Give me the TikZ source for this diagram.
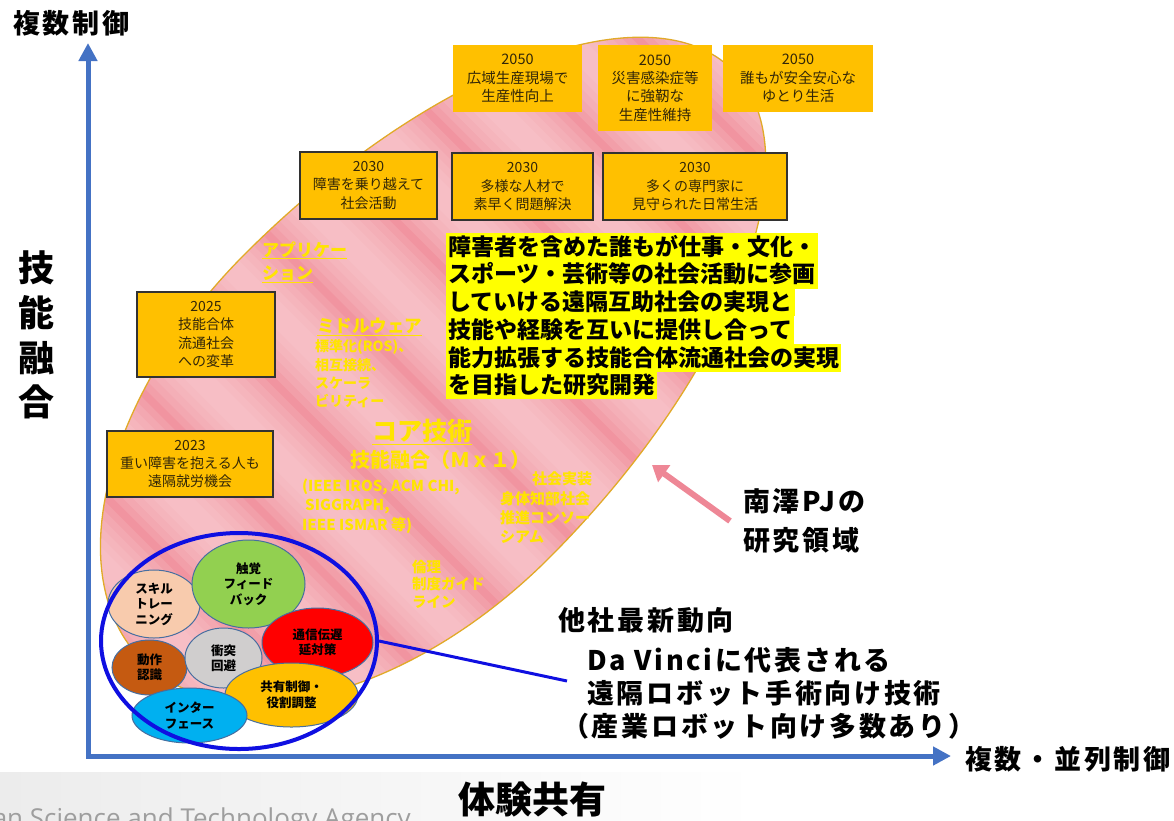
\documentclass[tikz,border=0pt]{standalone}
\usepackage{fontspec}
\setmainfont{Noto Sans CJK JP}
\newfontfamily\widejp[LetterSpace=10]{Noto Sans CJK JP}
\newfontfamily\latsans{Open Sans}
\usetikzlibrary{shapes.geometric,arrows.meta}
\definecolor{pinkbase}{RGB}{241,148,160}
\definecolor{pinklight}{RGB}{252,214,218}
\definecolor{ellipseedge}{RGB}{225,170,40}
\definecolor{boxfill}{RGB}{255,192,0}
\definecolor{boxedge}{RGB}{50,50,50}
\definecolor{boxtext}{RGB}{50,38,8}
\definecolor{hlyellow}{RGB}{255,255,0}
\definecolor{labyellow}{RGB}{255,228,0}
\definecolor{blobedge}{RGB}{70,110,160}
\definecolor{skillc}{RGB}{248,203,173}
\definecolor{hapticc}{RGB}{146,208,80}
\definecolor{netc}{RGB}{255,0,0}
\definecolor{motionc}{RGB}{197,90,17}
\definecolor{avoidc}{RGB}{208,206,206}
\definecolor{sharec}{RGB}{255,192,0}
\definecolor{ifacec}{RGB}{0,176,240}
\definecolor{circblue}{RGB}{15,15,225}
\definecolor{axisblue}{RGB}{68,114,196}
\definecolor{arrowpink}{RGB}{238,135,150}
\definecolor{footgray}{RGB}{236,236,236}
\begin{document}
\begin{tikzpicture}[x=1pt,y=-1pt,
  goalbox/.style={rectangle, fill=boxfill, draw=boxedge, line width=1.3pt, inner sep=0pt,
    align=center, text=boxtext, font=\fontsize{14}{18.3}\selectfont},
  goalnb/.style={goalbox, draw=none, font=\fontsize{14.5}{18.3}\selectfont},
  blob/.style={ellipse, draw=blobedge, line width=1pt, inner sep=0pt, align=center,
    font=\bfseries\fontsize{12.5}{15.5}\selectfont},
  ylab/.style={text=labyellow, anchor=west, align=left, inner sep=0pt},
  hl/.style={fill=hlyellow, anchor=west, inner xsep=2pt, inner ysep=1.6pt,
    text height=20.5pt, text depth=4pt, font=\bfseries\fontsize{23}{27.7}\selectfont},
  biglab/.style={anchor=west, inner sep=0pt, font=\widejp\bfseries\fontsize{27}{34}\selectfont},
  axis/.style={draw=axisblue, line width=5pt, line cap=rect, -{Triangle[width=18pt,length=18pt]}},
  pinkarrow/.style={draw=arrowpink, line width=6pt, -{Triangle[width=20pt,length=15pt]}},
  link/.style={draw=circblue, line width=3pt}
]
\useasboundingbox (0,0) rectangle (1174,820);
% footer band
\fill[left color=footgray, right color=white] (0,772) rectangle (760,820);
\node[anchor=base east, inner sep=0pt, text=black!38, font=\latsans\fontsize{26}{26}\selectfont] (jst) at (411,827) {Japan Science and Technology Agency};

% pink research region (egg-like ellipse, local axes: s along the long axis)
\def\regionpath{(0,-215) arc[start angle=-90, end angle=90, x radius=475, y radius=215]
  arc[start angle=90, end angle=270, x radius=360, y radius=215] -- cycle}
\begin{scope}[shift={(397,406)}, rotate=45]
  \begin{scope}
    \clip \regionpath;
    \fill[pinkbase] (-520,-320) rectangle (520,320);
    \foreach \s in {-420,-320,-220,-120,-20,80,180,280,380,480} {
      \foreach \w in {92,78,64,50,36,22} {
        \fill[pinklight, opacity=0.17] (\s-\w/2,-320) rectangle (\s+\w/2,320);
      }
    }
  \end{scope}
  \draw[ellipseedge, line width=1.3pt] \regionpath;
\end{scope}

% faint labels inside the region
\node[ylab, font=\bfseries\fontsize{17}{23}\selectfont] (app) at (262,262) {\underline{アプリケー}\\\underline{ション}};
\node[ylab, font=\bfseries\fontsize{17.5}{20}\selectfont] (mw) at (317,327) {\underline{ミドルウェア}};
\node[ylab, font=\bfseries\fontsize{14}{18.3}\selectfont] (mwd) at (315,374) {標準化(ROS)、\\相互接続、\\スケーラ\\ビリティー};
\node[ylab, font=\bfseries\fontsize{25}{28}\selectfont] (core) at (372,432) {\underline{コア技術}};
\node[ylab, font=\bfseries\fontsize{20}{24}\selectfont] (fuse) at (350,460) {技能融合（Ｍｘ１）};
\node[ylab, font=\bfseries\fontsize{15}{19.3}\selectfont] (conf) at (302,506) {(IEEE IROS, ACM CHI,\\\hspace{3pt}SIGGRAPH,\\IEEE ISMAR 等)};
\node[ylab, font=\bfseries\fontsize{15}{19}\selectfont] (soc) at (532,478.5) {社会実装};
\node[ylab, font=\bfseries\fontsize{15}{19}\selectfont] (socd) at (500,517.5) {身体知部社会\\推進コンソー\\シアム};
\node[ylab, font=\bfseries\fontsize{14.5}{17.5}\selectfont] (eth) at (412,584) {倫理\\制度ガイド\\ライン};

% goal boxes
\node[goalnb, minimum width=129pt, minimum height=67pt] (g50a) at (517.5,78.5) {2050\\広域生産現場で\\生産性向上};
\node[goalnb, minimum width=114pt, minimum height=86pt] (g50b) at (655,88) {2050\\災害感染症等\\に強靭な\\生産性維持};
\node[goalnb, minimum width=150pt, minimum height=67pt] (g50c) at (798,78.5) {2050\\誰もが安全安心な\\ゆとり生活};
\node[goalbox, minimum width=137pt, minimum height=67pt] (g30a) at (368.5,185.5) {2030\\障害を乗り越えて\\社会活動};
\node[goalbox, minimum width=141pt, minimum height=67pt] (g30b) at (522.5,186.5) {2030\\多様な人材で\\素早く問題解決};
\node[goalbox, minimum width=184pt, minimum height=67pt] (g30c) at (695,186.5) {2030\\多くの専門家に\\見守られた日常生活};
\node[goalbox, minimum width=138pt, minimum height=85pt] (g25) at (206,334.5) {2025\\技能合体\\流通社会\\への変革};
\node[goalbox, minimum width=166pt, minimum height=66pt] (g23) at (190,464) {2023\\重い障害を抱える人も\\遠隔就労機会};

% highlighted statement
\node[hl] (s1) at (446,247) {障害者を含めた誰もが仕事・文化・};
\node[hl] (s2) at (446,274.7) {スポーツ・芸術等の社会活動に参画};
\node[hl] (s3) at (446,302.4) {していける遠隔互助社会の実現と};
\node[hl] (s4) at (446,330.1) {技能や経験を互いに提供し合って};
\node[hl] (s5) at (446,357.8) {能力拡張する技能合体流通社会の実現};
\node[hl] (s6) at (446,385.5) {を目指した研究開発};

% technology blobs
\node[blob, fill=skillc, minimum width=92pt, minimum height=68pt] (skill) at (154,604) {スキル\\トレー\\ニング};
\node[blob, fill=hapticc, minimum width=113pt, minimum height=88pt] (hap) at (248.5,584) {触覚\\フィード\\バック};
\node[blob, fill=netc, minimum width=111pt, minimum height=69pt] (net) at (317.5,642.5) {通信伝遅\\延対策};
\node[blob, fill=motionc, minimum width=75pt, minimum height=55pt] (mot) at (149.5,667.5) {動作\\認識};
\node[blob, fill=avoidc, minimum width=77pt, minimum height=60pt] (avoid) at (223.5,658) {衝突\\回避};
\node[blob, fill=sharec, minimum width=133pt, minimum height=64pt] (share) at (291.5,695) {共有制御・\\役割調整};
\node[blob, fill=ifacec, minimum width=115pt, minimum height=55pt] (iface) at (189.5,715.5) {インター\\フェース};
\node[ellipse, draw=circblue, line width=4pt, minimum width=276pt, minimum height=216pt, inner sep=0pt] (bigell) at (239,641) {};

% other companies text and link
\node[biglab] (dv1) at (558,620.5) {他社最新動向};
\node[biglab] (dv2) at (587,660) {Da Vinciに代表される};
\node[biglab] (dv3) at (587,693.5) {遠隔ロボット手術向け技術};
\node[biglab] (dv4) at (562,726.5) {（産業ロボット向け多数あり）};
\coordinate (dvend) at (567,681);
\draw[link] (bigell.east) -- (dvend);

% research area label and arrow
\node[biglab] (pj1) at (743,501) {南澤PJの};
\node[biglab] (pj2) at (743,540) {研究領域};
\coordinate (pjtail) at (730,521);
\coordinate (pjtip) at (652,465);
\draw[pinkarrow] (pjtail) -- (pjtip);

% axes
\coordinate (O) at (88,756);
\coordinate (ytip) at (88,43);
\coordinate (xtip) at (951,756);
\draw[axis] (O) -- (ytip);
\draw[axis] (O) -- (xtip);
\node[biglab] (ytitle) at (13,23.5) {複数制御};
\node[biglab] (xtitle) at (965,759) {複数・並列制御};
\node[inner sep=0pt, align=center, font=\bfseries\fontsize{36}{44.7}\selectfont] (vtitle) at (36.5,335) {技\\能\\融\\合};
\node[inner sep=0pt, font=\bfseries\fontsize{37}{40}\selectfont] (btitle) at (532,799) {体験共有};
\end{tikzpicture}
\end{document}
